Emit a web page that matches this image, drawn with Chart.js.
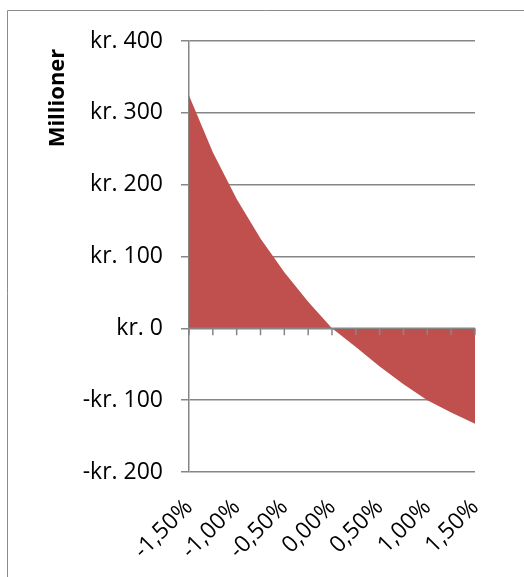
<!DOCTYPE html>
<html>
<head>
<meta charset="utf-8">
<script src="https://cdn.jsdelivr.net/npm/chart.js@4"></script>
<style>
  body { margin: 0; background: #fff; overflow: hidden; }
</style>
</head>
<body>
<canvas id="areaChart" width="524" height="577"></canvas>
<script>
// rate change vs. value change (millions kr.)
const rates = ['-1,50%', '-1,25%', '-1,00%', '-0,75%', '-0,50%', '-0,25%', '0,00%',
  '0,25%', '0,50%', '0,75%', '1,00%', '1,25%', '1,50%']
const values = [324, 245, 180, 125, 78, 37, 0, -26, -53, -78, -100, -117, -133]
const yTicks = [-200, -100, 0, 100, 200, 300, 400]
const yTitle = 'Millioner'

const gridGray = '#868686'
const font = "'Open Sans', sans-serif"

// the x axis crosses at 0, with small ticks pointing down
const zeroAxis = {
  id: 'zeroAxis',
  beforeDraw(chart) {
    // outer frame, only left and top edges show in the crop
    const { ctx, width, height } = chart
    ctx.save()
    ctx.strokeStyle = '#8c8c8c'
    ctx.lineWidth = 1
    ctx.beginPath()
    ctx.moveTo(7.5, height)
    ctx.lineTo(7.5, 10.5)
    ctx.lineTo(width, 10.5)
    ctx.stroke()
    ctx.restore()
  },
  afterDatasetsDraw(chart) {
    const { ctx, chartArea, scales } = chart
    const y0 = scales.y.getPixelForValue(0)
    ctx.save()
    ctx.strokeStyle = gridGray
    ctx.lineWidth = 1.5
    ctx.beginPath()
    ctx.moveTo(chartArea.left, y0)
    ctx.lineTo(chartArea.right, y0)
    rates.forEach((r, i) => {
      const x = scales.x.getPixelForValue(i)
      ctx.moveTo(x, y0)
      ctx.lineTo(x, y0 + 7)
    })
    ctx.stroke()
    ctx.restore()
  },
  // axis title sits up at the top, like Excel does it
  afterDraw(chart) {
    const { ctx } = chart
    ctx.save()
    ctx.translate(58, 98)
    ctx.rotate(-Math.PI / 2)
    ctx.font = 'bold 22px ' + font
    ctx.fillStyle = '#000'
    ctx.textAlign = 'center'
    ctx.textBaseline = 'middle'
    ctx.fillText(yTitle, 0, 0)
    ctx.restore()
  },
}

new Chart(document.getElementById('areaChart'), {
  type: 'line',
  data: {
    labels: rates,
    datasets: [
      {
        data: values,
        fill: 'origin',
        backgroundColor: '#C0504D',
        borderWidth: 0,
        pointRadius: 0,
        tension: 0,
      },
    ],
  },
  options: {
    responsive: false,
    animation: false,
    layout: { padding: { top: 41, right: 49, left: 0, bottom: 0 } },
    plugins: { legend: { display: false }, tooltip: { enabled: false } },
    scales: {
      x: {
        offset: false,
        grid: { display: false },
        border: { display: false },
        afterFit: (s) => { s.height = 105 },
        ticks: {
          autoSkip: false,
          maxRotation: 45,
          minRotation: 45,
          padding: 14,
          color: '#000',
          font: { family: font, size: 23 },
          callback: (v, i) => (i % 2 === 0 ? rates[i] : ''),
        },
      },
      y: {
        min: -200,
        max: 400,
        afterBuildTicks: (s) => { s.ticks = yTicks.map((v) => ({ value: v })) },
        afterFit: (s) => { s.width = 189 },
        grid: { color: gridGray, lineWidth: 1.5, tickLength: 8 },
        border: { display: true, color: gridGray, width: 1.5 },
        ticks: {
          padding: 18,
          color: '#000',
          font: { family: font, size: 23 },
          callback: (v) => (v < 0 ? '-kr. ' + -v : 'kr. ' + v),
        },
      },
    },
  },
  plugins: [zeroAxis],
})
</script>
</body>
</html>
